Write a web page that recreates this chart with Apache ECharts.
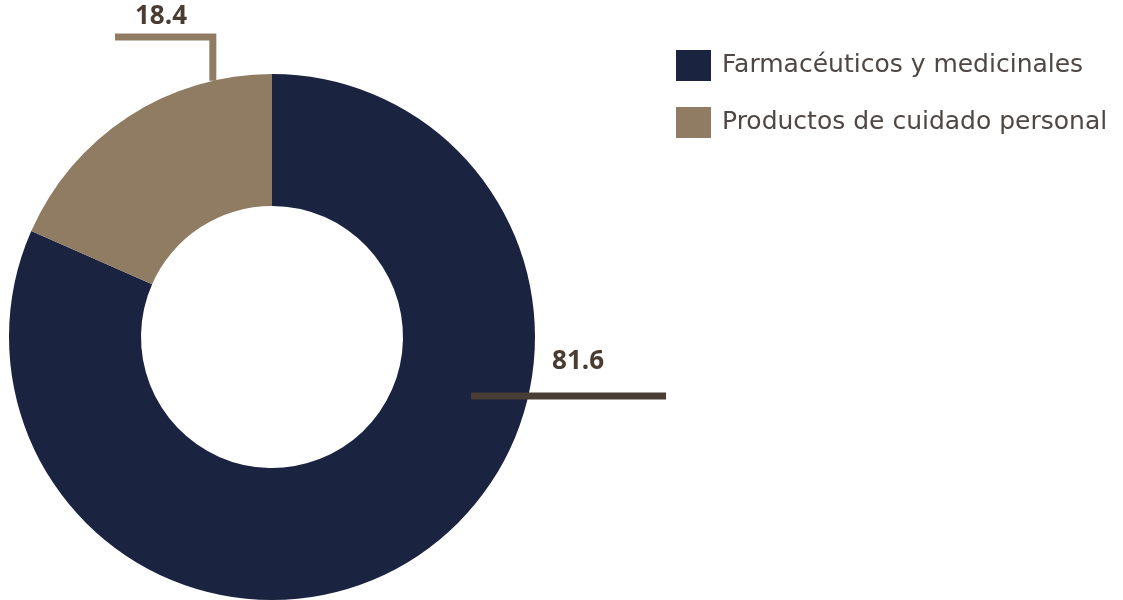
<!DOCTYPE html>
<html>
<head>
<meta charset="utf-8">
<script src="https://cdn.jsdelivr.net/npm/echarts@6/dist/echarts.min.js"></script>
<style>
  html, body { margin: 0; padding: 0; background: #fff; }
  #main { width: 1123px; height: 600px; }
</style>
</head>
<body>
<div id="main"></div>
<script>
const categories = ["Farmacéuticos y medicinales", "Productos de cuidado personal"];
const values = [81.6, 18.4];
const colors = ["#1a2340", "#8f7c62"];
const lineColors = ["#4a3d35", "#8f7c62"];

// geometría del anillo
const cx = 272, cy = 337, rIn = 131, rOut = 263;

const chartDom = document.getElementById("main");
const myChart = echarts.init(chartDom);

// punto sobre el anillo a partir de radio y ángulo
const pt = (r, deg) => [cx + r * Math.cos(deg * Math.PI / 180), cy - r * Math.sin(deg * Math.PI / 180)];

// posiciones de etiquetas y líneas guía (estilo Excel)
const layout = (params) => {
  if (params.dataIndex === 0) {
    const a = pt(207.6, -16.5);
    const b = [a[0] + 195, a[1]];
    return {
      x: a[0] + 107, y: a[1] - 34,
      align: "center", verticalAlign: "middle",
      labelLinePoints: [a, [a[0] + 98, a[1]], b]
    };
  } else {
    const a = pt(rOut, 103);
    const b = [a[0], 37];
    const c = [115, 37];
    return {
      x: 161, y: 17,
      align: "center", verticalAlign: "middle",
      labelLinePoints: [a, b, c]
    };
  }
};

const option = {
  animation: false,
  legend: {
    orient: "vertical",
    left: 676,
    top: 50,
    padding: 0,
    itemWidth: 35,
    itemHeight: 31,
    itemGap: 26,
    icon: "rect",
    textStyle: {
      fontFamily: "DejaVu Sans",
      fontSize: 25,
      color: "#4f4744",
      padding: [0, 0, 0, 6]
    },
    data: categories
  },
  series: [
    {
      type: "pie",
      center: [cx, cy],
      radius: [rIn, rOut],
      startAngle: 90,
      clockwise: true,
      silent: true,
      label: { show: false },
      labelLine: { show: false },
      data: categories.map((name, i) => ({
        name: name,
        value: values[i],
        itemStyle: { color: colors[i] }
      }))
    },
    {
      // capa transparente para dibujar las líneas guía encima del anillo
      type: "pie",
      z: 5,
      center: [cx, cy],
      radius: [rIn, rOut],
      startAngle: 90,
      clockwise: true,
      silent: true,
      itemStyle: { color: "rgba(0,0,0,0)" },
      label: {
        show: true,
        formatter: (p) => p.value.toFixed(1),
        fontFamily: "Open Sans",
        fontWeight: "bold",
        fontSize: 26,
        color: "#4a3b33"
      },
      labelLine: { show: true, smooth: false },
      labelLayout: layout,
      data: categories.map((name, i) => ({
        name: name,
        value: values[i],
        itemStyle: { color: "rgba(0,0,0,0)" },
        labelLine: { lineStyle: { color: lineColors[i], width: 7 } }
      }))
    }
  ]
};

option && myChart.setOption(option);
</script>
</body>
</html>
